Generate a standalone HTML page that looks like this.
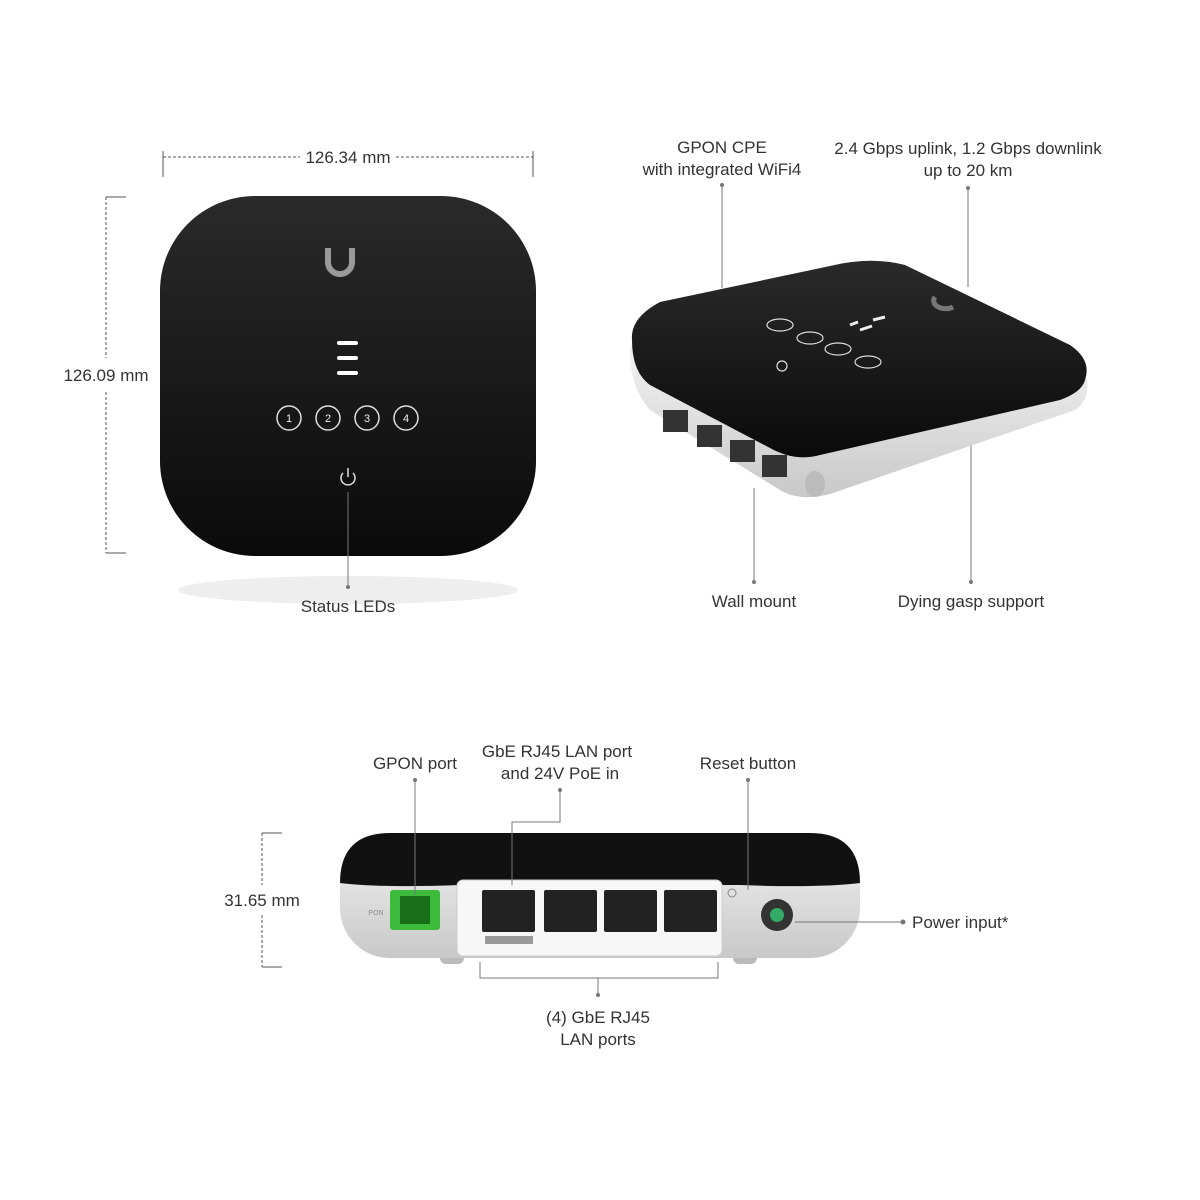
<!DOCTYPE html>
<html><head><meta charset="utf-8"><style>
html,body{margin:0;padding:0;background:#fff}
svg{display:block}
text{font-family:"Liberation Sans",sans-serif;font-size:17px;fill:#333}
</style></head><body>
<svg width="1200" height="1200" viewBox="0 0 1200 1200">
<defs>
<linearGradient id="g1" x1="0" y1="0" x2="0" y2="1"><stop offset="0" stop-color="#2a2a2a"/><stop offset="1" stop-color="#0a0a0a"/></linearGradient>
<linearGradient id="g2" x1="0" y1="0" x2="0" y2="1"><stop offset="0" stop-color="#f4f4f4"/><stop offset="1" stop-color="#c8c8c8"/></linearGradient>
</defs>
<!-- top-left device -->
<g stroke="#555" stroke-width="1" fill="none">
<line x1="163" y1="157" x2="300" y2="157" stroke-dasharray="3,2"/>
<line x1="396" y1="157" x2="533" y2="157" stroke-dasharray="3,2"/>
<line x1="163" y1="151" x2="163" y2="177"/><line x1="533" y1="151" x2="533" y2="177"/>
<line x1="106" y1="197" x2="106" y2="358" stroke-dasharray="3,2"/>
<line x1="106" y1="392" x2="106" y2="553" stroke-dasharray="3,2"/>
<line x1="106" y1="197" x2="126" y2="197"/><line x1="106" y1="553" x2="126" y2="553"/>
</g>
<text x="348" y="163" text-anchor="middle">126.34 mm</text>
<text x="106" y="381" text-anchor="middle">126.09 mm</text>
<ellipse cx="348" cy="590" rx="170" ry="14" fill="#eee"/>
<rect x="160" y="196" width="376" height="360" rx="95" fill="url(#g1)"/>
<path d="M328 248 v14 a12 12 0 0 0 24 0 v-14" stroke="#9a9a9a" stroke-width="6" fill="none"/>
<g fill="#fff"><rect x="337" y="341" width="21" height="4" rx="2"/><rect x="337" y="356" width="21" height="4" rx="2"/><rect x="337" y="371" width="21" height="4" rx="2"/></g>
<g stroke="#ddd" stroke-width="1.5" fill="none">
<circle cx="289" cy="418" r="12"/><circle cx="328" cy="418" r="12"/><circle cx="367" cy="418" r="12"/><circle cx="406" cy="418" r="12"/>
<path d="M343 473 a7 7 0 1 0 10 0"/><line x1="348" y1="468" x2="348" y2="477"/>
</g>
<g><text x="289" y="422" text-anchor="middle" style="font-size:11px;fill:#eee">1</text><text x="328" y="422" text-anchor="middle" style="font-size:11px;fill:#eee">2</text><text x="367" y="422" text-anchor="middle" style="font-size:11px;fill:#eee">3</text><text x="406" y="422" text-anchor="middle" style="font-size:11px;fill:#eee">4</text></g>
<line x1="348" y1="492" x2="348" y2="587" stroke="#777"/><circle cx="348" cy="587" r="2" fill="#777"/>
<text x="348" y="612" text-anchor="middle">Status LEDs</text>

<!-- top-right device -->
<text x="722" y="153" text-anchor="middle">GPON  CPE</text>
<text x="722" y="175" text-anchor="middle">with integrated WiFi4</text>
<text x="968" y="154" text-anchor="middle">2.4 Gbps uplink, 1.2 Gbps downlink</text>
<text x="968" y="176" text-anchor="middle">up to 20 km</text>
<g stroke="#777"><line x1="722" y1="185" x2="722" y2="288"/><line x1="968" y1="188" x2="968" y2="287"/>
<line x1="754" y1="488" x2="754" y2="582"/><line x1="971" y1="437" x2="971" y2="582"/></g>
<circle cx="722" cy="185" r="2" fill="#777"/><circle cx="968" cy="188" r="2" fill="#777"/><circle cx="754" cy="582" r="2" fill="#777"/><circle cx="971" cy="582" r="2" fill="#777"/>
<path d="M630 345 Q628 385 650 410 L780 490 Q800 502 830 494 L1075 410 Q1090 400 1087 378 Z" fill="url(#g2)"/>
<path d="M632 340 Q630 318 660 302 L830 266 Q870 256 905 265 L1070 345 Q1092 360 1085 380 Q1082 392 1060 400 L820 455 Q795 462 770 448 L650 385 Q632 372 632 340 Z" fill="url(#g1)"/>
<g fill="#333"><rect x="663" y="410" width="25" height="22"/><rect x="697" y="425" width="25" height="22"/><rect x="730" y="440" width="25" height="22"/><rect x="762" y="455" width="25" height="22"/></g>
<ellipse cx="815" cy="484" rx="10" ry="13" fill="#bbb"/>
<g stroke="#ddd" stroke-width="1.2" fill="none"><ellipse cx="780" cy="325" rx="13" ry="6"/><ellipse cx="810" cy="338" rx="13" ry="6"/><ellipse cx="838" cy="349" rx="13" ry="6"/><ellipse cx="868" cy="362" rx="13" ry="6"/><circle cx="782" cy="366" r="5"/></g>
<g stroke="#eee" stroke-width="3"><line x1="850" y1="325" x2="858" y2="322"/><line x1="860" y1="330" x2="872" y2="326"/><line x1="873" y1="320" x2="885" y2="317"/></g>
<path d="M935 297 a12 8 0 0 0 18 10" stroke="#777" stroke-width="5" fill="none"/>
<text x="754" y="607" text-anchor="middle">Wall mount</text>
<text x="971" y="607" text-anchor="middle">Dying gasp support</text>

<!-- bottom device -->
<text x="415" y="769" text-anchor="middle">GPON port</text>
<text x="557" y="757" text-anchor="middle">GbE RJ45 LAN port</text>
<text x="560" y="779" text-anchor="middle">and 24V PoE in</text>
<text x="748" y="769" text-anchor="middle">Reset button</text>
<text x="912" y="928">Power input*</text>
<text x="262" y="906" text-anchor="middle">31.65 mm</text>
<text x="598" y="1023" text-anchor="middle">(4) GbE RJ45</text>
<text x="598" y="1045" text-anchor="middle">LAN ports</text>
<g stroke="#555" fill="none">
<line x1="262" y1="833" x2="262" y2="885" stroke-dasharray="3,2"/><line x1="262" y1="915" x2="262" y2="967" stroke-dasharray="3,2"/>
<line x1="262" y1="833" x2="282" y2="833"/><line x1="262" y1="967" x2="282" y2="967"/>
</g>
<rect x="440" y="948" width="24" height="16" rx="6" fill="#bbb"/><rect x="733" y="948" width="24" height="16" rx="6" fill="#bbb"/>
<rect x="340" y="833" width="520" height="125" rx="50" fill="url(#g2)"/>
<path d="M340 883 Q340 833 390 833 L810 833 Q860 833 860 883 Q820 888 740 885 L460 885 Q380 888 340 883 Z" fill="#111"/>
<rect x="457" y="880" width="265" height="76" rx="6" fill="#f7f7f7" stroke="#ccc"/>
<g fill="#222"><rect x="482" y="890" width="53" height="42" rx="2"/><rect x="544" y="890" width="53" height="42" rx="2"/><rect x="604" y="890" width="53" height="42" rx="2"/><rect x="664" y="890" width="53" height="42" rx="2"/></g>
<rect x="485" y="936" width="48" height="8" fill="#999"/>
<rect x="390" y="890" width="50" height="40" rx="3" fill="#3dbb3d"/><rect x="400" y="896" width="30" height="28" fill="#196f19"/>
<text x="376" y="915" text-anchor="middle" style="font-size:7px;fill:#888">PON</text>
<circle cx="777" cy="915" r="16" fill="#333"/><circle cx="777" cy="915" r="7" fill="#3a6"/>
<circle cx="732" cy="893" r="4" fill="none" stroke="#888"/>
<g stroke="#777" fill="none">
<line x1="415" y1="780" x2="415" y2="895"/>
<polyline points="560,790 560,822 512,822 512,885"/>
<line x1="748" y1="780" x2="748" y2="890"/>
<line x1="795" y1="922" x2="903" y2="922"/>
<polyline points="480,962 480,978 718,978 718,962"/><line x1="598" y1="978" x2="598" y2="995"/>
</g>
<g fill="#777"><circle cx="415" cy="780" r="2"/><circle cx="560" cy="790" r="2"/><circle cx="748" cy="780" r="2"/><circle cx="903" cy="922" r="2.5"/><circle cx="598" cy="995" r="2"/></g>
</svg>
</body></html>
